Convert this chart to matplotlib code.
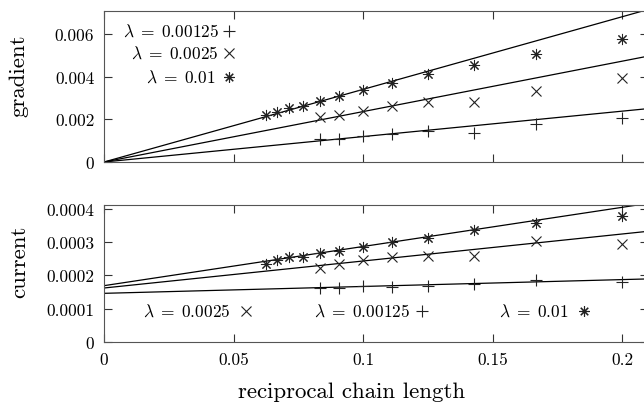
import matplotlib
matplotlib.use("Agg")
import matplotlib.pyplot as plt

plt.rcParams['font.family'] = ['cmr10']
plt.rcParams['mathtext.fontset'] = 'cm'
plt.rcParams['axes.formatter.use_mathtext'] = True

# reciprocal chain length, 1/N
x_all = [1/16, 1/15, 1/14, 1/13, 1/12, 1/11, 1/10, 1/9, 1/8, 1/7, 1/6, 1/5]
x_short = [1/12, 1/11, 1/10, 1/9, 1/8, 1/7, 1/6, 1/5]

# gradient (top panel)
grad_001 = [0.00220, 0.00236, 0.00252, 0.00264, 0.00287, 0.00308, 0.00339, 0.00369,
            0.00411, 0.00456, 0.00507, 0.00575]
grad_00025 = [0.00212, 0.00219, 0.00239, 0.00262, 0.00282, 0.00282, 0.00333, 0.00393]
grad_000125 = [0.00109, 0.00108, 0.00123, 0.00131, 0.00144, 0.00136, 0.00178, 0.00206]

# current (bottom panel)
curr_001 = [0.000233, 0.000246, 0.000256, 0.000254, 0.000266, 0.000274, 0.000286, 0.000299,
            0.000311, 0.000336, 0.000358, 0.000379]
curr_00025 = [0.000222, 0.000234, 0.000247, 0.000254, 0.000259, 0.000259, 0.000302, 0.000294]
curr_000125 = [0.000162, 0.000161, 0.000167, 0.000165, 0.000169, 0.000173, 0.000187, 0.000180]

# linear fits (intercept, slope)
grad_fits = {'0.01': (0.0, 0.0340), '0.0025': (0.0, 0.0236), '0.00125': (0.0, 0.0119)}
curr_fits = {'0.01': (0.000169, 0.001175), '0.0025': (0.000162, 0.00081),
             '0.00125': (0.000146, 0.000206)}

x_ticks = [0, 0.05, 0.1, 0.15, 0.2]
x_ticklabels = ['0', '0.05', '0.1', '0.15', '0.2']
grad_ticks = [0, 0.002, 0.004, 0.006]
grad_ticklabels = ['0', '0.002', '0.004', '0.006']
curr_ticks = [0, 0.0001, 0.0002, 0.0003, 0.0004]
curr_ticklabels = ['0', '0.0001', '0.0002', '0.0003', '0.0004']

STAR = (8, 2, 0)
MARKERS = {'0.00125': '+', '0.0025': 'x', '0.01': STAR}
MS = 7.5
TICK_SIZE = 12.5
KEY_SIZE = 12.5
LABEL_SIZE = 16.5
INK = '#222222'
W, H = 644, 406


def style_axes(ax):
    ax.tick_params(direction='in', length=6, width=0.8, top=True, right=True,
                   labelsize=TICK_SIZE, pad=7, color='#333333')
    for s in ax.spines.values():
        s.set_linewidth(0.8)
        s.set_color('#555555')


def plot_panel(ax, s001, s0025, s000125, fits):
    for b, m in fits.values():
        ax.axline((0, b), slope=m, color='black', lw=0.9)
    ax.plot(x_all, s001, ls='none', marker=STAR, ms=MS + 0.5, mew=0.75, color=INK)
    ax.plot(x_short, s0025, ls='none', marker='x', ms=MS, mew=0.8, color=INK)
    ax.plot(x_short, s000125, ls='none', marker='+', ms=MS + 1, mew=0.8, color=INK)


def key(ax, tx, mx, y, lam):
    ax.text(tx, y, r'$\lambda\;=\;%s$' % lam, transform=ax.transAxes, ha='right',
            va='center', fontsize=KEY_SIZE)
    ms = MS + 1 if lam == '0.00125' else MS
    ax.plot([mx], [y], transform=ax.transAxes, marker=MARKERS[lam], ms=ms,
            mew=0.8, color=INK, ls='none', clip_on=False)


fig = plt.figure(figsize=(W / 100, H / 100), dpi=100)
left, right = 104 / W, 648 / W
ax1 = fig.add_axes([left, 1 - 163 / H, right - left, 151 / H])
ax2 = fig.add_axes([left, 1 - 343 / H, right - left, 137 / H])

plot_panel(ax1, grad_001, grad_00025, grad_000125, grad_fits)
ax1.set_xlim(0, 0.21)
ax1.set_ylim(0, 0.00707)
ax1.set_xticks(x_ticks)
ax1.set_xticklabels([])
ax1.set_yticks(grad_ticks)
ax1.set_yticklabels(grad_ticklabels)
style_axes(ax1)
key(ax1, 0.211, 0.2298, 0.868, '0.00125')
key(ax1, 0.211, 0.2298, 0.722, '0.0025')
key(ax1, 0.205, 0.2298, 0.563, '0.01')

plot_panel(ax2, curr_001, curr_00025, curr_000125, curr_fits)
ax2.set_xlim(0, 0.21)
ax2.set_ylim(0, 0.000411)
ax2.set_xticks(x_ticks)
ax2.set_xticklabels(x_ticklabels)
ax2.set_yticks(curr_ticks)
ax2.set_yticklabels(curr_ticklabels)
style_axes(ax2)
key(ax2, 0.2316, 0.261, 0.228, '0.0025')
key(ax2, 0.5625, 0.5846, 0.228, '0.00125')
key(ax2, 0.855, 0.882, 0.228, '0.01')

fig.text(19 / W, 1 - 76 / H, 'gradient', rotation=90, ha='center', va='center',
         fontsize=LABEL_SIZE)
fig.text(19 / W, 1 - 262 / H, 'current', rotation=90, ha='center', va='center',
         fontsize=LABEL_SIZE)
fig.text(352 / W, 1 - 392 / H, 'reciprocal chain length', ha='center', va='center',
         fontsize=LABEL_SIZE)

fig.savefig('out.png', dpi=100)
